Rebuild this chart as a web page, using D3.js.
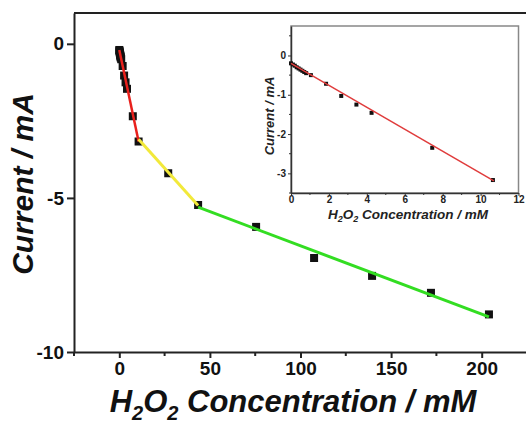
<!DOCTYPE html>
<html>
<head>
<meta charset="utf-8">
<script src="https://cdn.jsdelivr.net/npm/d3@7"></script>
<style>
  body { margin: 0; background: #fff; }
  svg { display: block; font-family: "Liberation Sans", Arial, sans-serif; }
  .tick text { font-weight: bold; }
</style>
</head>
<body>
<svg id="chart"></svg>
<script>
const WIDTH = 526;
const HEIGHT = 423;

// main curve data (mM, mA)
const conc = [0, 0.1, 0.2, 0.3, 0.4, 0.5, 0.6, 0.7, 0.8, 1.05, 1.85, 2.65, 3.45, 4.25, 7.45, 10.65,
              27, 43.5, 75.5, 107.5, 139.5, 172, 204];
const current = [-0.2, -0.23, -0.26, -0.3, -0.33, -0.36, -0.39, -0.42, -0.45, -0.5, -0.72, -1.03, -1.25, -1.46, -2.35, -3.17,
                 -4.2, -5.23, -5.94, -6.95, -7.53, -8.08, -8.78];

// linear fit segments: [x0, y0, x1, y1]
const fitRed = [0, -0.2, 10.65, -3.17];
const fitYellow = [10.65, -3.1, 43.5, -5.25];
const fitGreen = [43.5, -5.3, 204, -8.86];

// inset data (first 16 points)
const insetConc = conc.slice(0, 16);
const insetCurrent = current.slice(0, 16);
const insetFit = [0, -0.2, 10.7, -3.19];

const xTicks = [0, 50, 100, 150, 200];
const xMinor = [-25, 25, 75, 125, 175, 225];
const yTicks = [0, -5, -10];
const insetXTicks = [0, 2, 4, 6, 8, 10, 12];
const insetXMinor = [1, 3, 5, 7, 9, 11];
const insetYTicks = [0, -1, -2, -3];
const insetYMinor = [0.5, -0.5, -1.5, -2.5, -3.5];

const fmt = d => String(d); // plain hyphen minus like the original

const svg = d3.select('#chart').attr('width', WIDTH).attr('height', HEIGHT);

// ---------- main plot ----------
const x = d3.scaleLinear().domain([-25, 225]).range([74, 527]);
const y = d3.scaleLinear().domain([-10, 1]).range([352, 13]);

// frame top border
svg.append('line')
    .attr('x1', x(-25)).attr('x2', WIDTH)
    .attr('y1', y(1)).attr('y2', y(1))
    .attr('stroke', '#222').attr('stroke-width', 2);

const bottomAxis = d3.axisBottom(x).tickValues(xTicks).tickFormat(fmt).tickSize(6).tickPadding(4).tickSizeOuter(0);
const gx = svg.append('g').attr('transform', 'translate(0,' + y(-10) + ')').call(bottomAxis);
gx.selectAll('.tick text').attr('font-size', 19).attr('fill', '#111');
gx.select('.domain').attr('stroke', '#222').attr('stroke-width', 2);
gx.selectAll('.tick line').attr('stroke', '#222').attr('stroke-width', 2);
svg.append('g').selectAll('line').data(xMinor).enter().append('line')
    .attr('x1', d => x(d)).attr('x2', d => x(d))
    .attr('y1', y(-10)).attr('y2', y(-10) + 4)
    .attr('stroke', '#222').attr('stroke-width', 2);

const leftAxis = d3.axisLeft(y).tickValues(yTicks).tickFormat(fmt).tickSize(7).tickPadding(3).tickSizeOuter(0);
const gy = svg.append('g').attr('transform', 'translate(' + x(-25) + ',0)').call(leftAxis);
gy.selectAll('.tick text').attr('font-size', 19).attr('fill', '#111');
gy.select('.domain').attr('stroke', '#222').attr('stroke-width', 2);
gy.selectAll('.tick line').attr('stroke', '#222').attr('stroke-width', 2);

// markers
svg.append('g').selectAll('rect').data(conc).enter().append('rect')
    .attr('x', d => x(d) - 4)
    .attr('y', (d, i) => y(current[i]) - 4)
    .attr('width', 8).attr('height', 8)
    .attr('fill', '#111');

// fit lines
function drawFit(seg, color, sx, sy, w) {
    svg.append('line')
        .attr('x1', sx(seg[0])).attr('y1', sy(seg[1]))
        .attr('x2', sx(seg[2])).attr('y2', sy(seg[3]))
        .attr('stroke', color).attr('stroke-width', w);
}
drawFit(fitRed, '#e8201c', x, y, 2.5);
drawFit(fitYellow, '#f2e93a', x, y, 3);
drawFit(fitGreen, '#33dd22', x, y, 3);

// axis titles
svg.append('text')
    .attr('transform', 'translate(33,184) rotate(-90)')
    .attr('text-anchor', 'middle')
    .attr('font-size', 30).attr('font-weight', 'bold').attr('font-style', 'italic')
    .attr('fill', '#111')
    .text('Current / mA');

const xt = svg.append('text')
    .attr('x', 293).attr('y', 412)
    .attr('text-anchor', 'middle')
    .attr('font-size', 31).attr('font-weight', 'bold').attr('font-style', 'italic')
    .attr('fill', '#111');
xt.append('tspan').text('H');
xt.append('tspan').attr('font-size', 20).attr('dy', 8).text('2');
xt.append('tspan').attr('dy', -8).text('O');
xt.append('tspan').attr('font-size', 20).attr('dy', 8).text('2');
xt.append('tspan').attr('dy', -8).text(' Concentration / mM');

// ---------- inset ----------
const ix = d3.scaleLinear().domain([0, 12]).range([291, 518.5]);
const iy = d3.scaleLinear().domain([-3.5, 0.75]).range([193, 26]);

svg.append('rect')
    .attr('x', ix(0)).attr('y', iy(0.75))
    .attr('width', ix(12) - ix(0)).attr('height', iy(-3.5) - iy(0.75))
    .attr('fill', 'none').attr('stroke', '#888').attr('stroke-width', 1.5);

const ibAxis = d3.axisBottom(ix).tickValues(insetXTicks).tickFormat(fmt).tickSize(3).tickPadding(0).tickSizeOuter(0);
const igx = svg.append('g').attr('transform', 'translate(0,' + iy(-3.5) + ')').call(ibAxis);
igx.selectAll('.tick text').attr('font-size', 10).attr('fill', '#222');
igx.select('.domain').attr('stroke', '#333').attr('stroke-width', 1.5);
igx.selectAll('.tick line').attr('stroke', '#333');
svg.append('g').selectAll('line').data(insetXMinor).enter().append('line')
    .attr('x1', d => ix(d)).attr('x2', d => ix(d))
    .attr('y1', iy(-3.5)).attr('y2', iy(-3.5) + 2)
    .attr('stroke', '#333');

const ilAxis = d3.axisLeft(iy).tickValues(insetYTicks).tickFormat(fmt).tickSize(3).tickPadding(2).tickSizeOuter(0);
const igy = svg.append('g').attr('transform', 'translate(' + ix(0) + ',0)').call(ilAxis);
igy.selectAll('.tick text').attr('font-size', 10).attr('fill', '#222');
igy.select('.domain').attr('stroke', '#333').attr('stroke-width', 1.5);
igy.selectAll('.tick line').attr('stroke', '#333');
svg.append('g').selectAll('line').data(insetYMinor).enter().append('line')
    .attr('x1', ix(0) - 2).attr('x2', ix(0))
    .attr('y1', d => iy(d)).attr('y2', d => iy(d))
    .attr('stroke', '#333');

svg.append('g').selectAll('rect').data(insetConc).enter().append('rect')
    .attr('x', d => ix(d) - 2)
    .attr('y', (d, i) => iy(insetCurrent[i]) - 2)
    .attr('width', 4).attr('height', 4)
    .attr('fill', '#111');

drawFit(insetFit, '#e03c3c', ix, iy, 1.5);

svg.append('text')
    .attr('transform', 'translate(274,116) rotate(-90)')
    .attr('text-anchor', 'middle')
    .attr('font-size', 13).attr('font-weight', 'bold').attr('font-style', 'italic')
    .attr('fill', '#222')
    .text('Current / mA');

const ixt = svg.append('text')
    .attr('x', 408).attr('y', 219)
    .attr('text-anchor', 'middle')
    .attr('font-size', 13.5).attr('font-weight', 'bold').attr('font-style', 'italic')
    .attr('fill', '#222');
ixt.append('tspan').text('H');
ixt.append('tspan').attr('font-size', 9).attr('dy', 3).text('2');
ixt.append('tspan').attr('dy', -3).text('O');
ixt.append('tspan').attr('font-size', 9).attr('dy', 3).text('2');
ixt.append('tspan').attr('dy', -3).text(' Concentration / mM');
</script>
</body>
</html>
